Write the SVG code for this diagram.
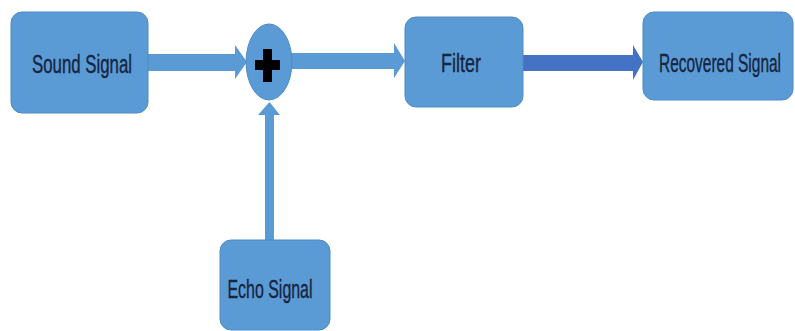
<svg xmlns="http://www.w3.org/2000/svg" width="795" height="331" viewBox="0 0 795 331">
<style>
.box{fill:#5b9bd5;stroke:#4f8ac2;stroke-width:1}
.lbl{font-family:"Liberation Sans",Arial,sans-serif;font-size:26px;fill:#17253f;stroke:#17253f;stroke-width:0.4;text-anchor:middle}
.arr{fill:#5b9bd5}
.arr-dark{fill:#4472c4}
</style>
<rect width="795" height="331" fill="#ffffff"/>
<g id="connectors">
<polygon class="arr" points="148,54 235,54 235,45 247,62 235,79 235,71 148,71"/>
<polygon class="arr" points="291,53 394,53 394,43 405,61 394,78 394,69 291,69"/>
<polygon class="arr-dark" points="523,55 633,55 633,45 643,62 633,80 633,71 523,71"/>
<polygon class="arr" points="265,241 265,115 258,115 269.5,102 280,115 274,115 274,241"/>
</g>
<g id="sound-signal">
<rect class="box" x="11" y="12" width="137" height="101" rx="11"/>
<text class="lbl" transform="translate(82,73) scale(0.647,1)" x="0" y="0">Sound Signal</text>
</g>
<g id="adder">
<ellipse class="box" cx="269" cy="62" rx="23" ry="38"/>
<path d="M263,49 H272 V60 H280 V70 H272 V82 H263 V70 H255 V60 H263 Z" fill="#000000"/>
</g>
<g id="filter">
<rect class="box" x="405" y="17" width="118" height="90" rx="11"/>
<text class="lbl" transform="translate(461,72) scale(0.69,1)" x="0" y="0">Filter</text>
</g>
<g id="recovered-signal">
<rect class="box" x="643" y="12" width="150" height="88" rx="11"/>
<text class="lbl" transform="translate(720,72) scale(0.595,1)" x="0" y="0">Recovered Signal</text>
</g>
<g id="echo-signal">
<rect class="box" x="220" y="240" width="110" height="90" rx="11"/>
<text class="lbl" transform="translate(270,298) scale(0.613,1)" x="0" y="0">Echo Signal</text>
</g>
</svg>
